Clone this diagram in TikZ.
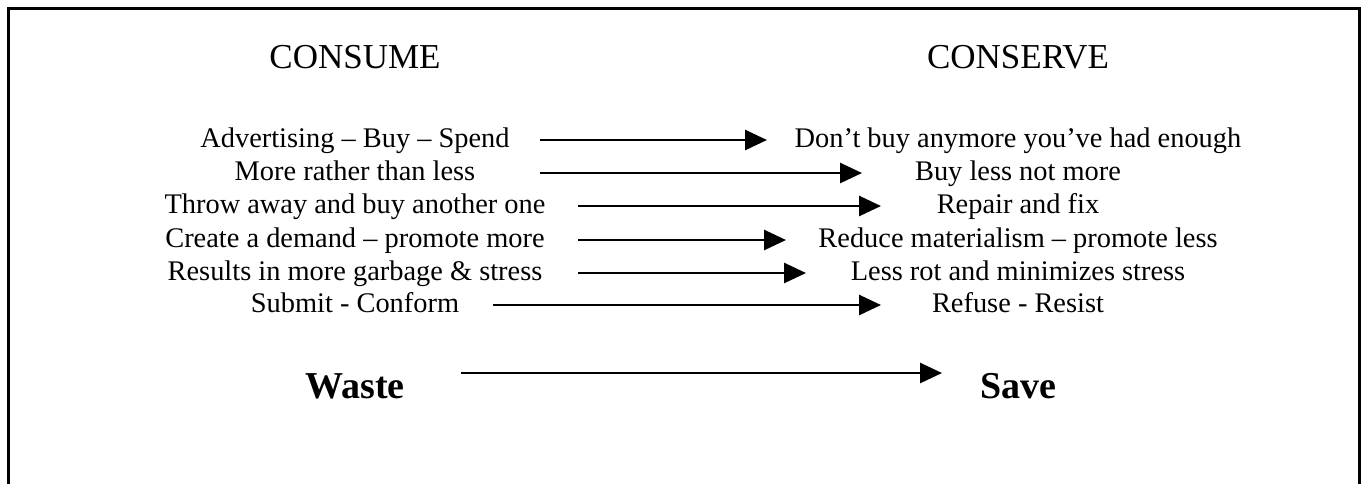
\documentclass[tikz,border=0pt]{standalone}
\usepackage{fontspec}
\setmainfont{Liberation Serif}
\usetikzlibrary{arrows.meta}
\tikzset{
  item/.style={font=\fontsize{14.2}{16}\selectfont, inner sep=0pt, anchor=base},
  head/.style={font=\fontsize{17.5}{20}\selectfont, inner sep=0pt, anchor=base},
  big/.style={font=\fontsize{19}{22}\selectfont\bfseries, inner sep=0pt, anchor=base},
  arr/.style={line width=1.4pt, -{Triangle[length=11pt,width=10pt]}}
}
\begin{document}
\begin{tikzpicture}[x=0.5pt,y=-0.5pt]
	\useasboundingbox (0,0) rectangle (1366,484);
	\draw [line width=1.5pt] (8,484) -- (8,8) -- (1359,8) -- (1359,484);
	% headings
	\node [head] (consume) at (355,68) {CONSUME};
	\node [head] (conserve) at (1018,68) {CONSERVE};
	% left column
	\node [item] (l1) at (355,147) {Advertising -- Buy -- Spend};
	\node [item] (l2) at (355,180) {More rather than less};
	\node [item] (l3) at (355,213) {Throw away and buy another one};
	\node [item] (l4) at (355,247) {Create a demand -- promote more};
	\node [item] (l5) at (355,280) {Results in more garbage \& stress};
	\node [item] (l6) at (355,312) {Submit - Conform};
	% right column
	\node [item] (r1) at (1018,147) {Don’t buy anymore you’ve had enough};
	\node [item] (r2) at (1018,180) {Buy less not more};
	\node [item] (r3) at (1018,213) {Repair and fix};
	\node [item] (r4) at (1018,247) {Reduce materialism -- promote less};
	\node [item] (r5) at (1018,280) {Less rot and minimizes stress};
	\node [item] (r6) at (1018,312) {Refuse - Resist};
	% arrow ends
	\coordinate (s1) at (540,140); \coordinate (e1) at (767,140);
	\coordinate (s2) at (540,173); \coordinate (e2) at (862,173);
	\coordinate (s3) at (578,206); \coordinate (e3) at (881,206);
	\coordinate (s4) at (578,240); \coordinate (e4) at (786,240);
	\coordinate (s5) at (578,273); \coordinate (e5) at (806,273);
	\coordinate (s6) at (493,305); \coordinate (e6) at (881,305);
	\draw [arr] (s1) -- (e1);
	\draw [arr] (s2) -- (e2);
	\draw [arr] (s3) -- (e3);
	\draw [arr] (s4) -- (e4);
	\draw [arr] (s5) -- (e5);
	\draw [arr] (s6) -- (e6);
	% bottom line
	\node [big] (waste) at (355,398) {Waste};
	\node [big] (save) at (1018,398) {Save};
	\coordinate (sw) at (461,373); \coordinate (ew) at (942,373);
	\draw [arr] (sw) -- (ew);
\end{tikzpicture}
\end{document}
